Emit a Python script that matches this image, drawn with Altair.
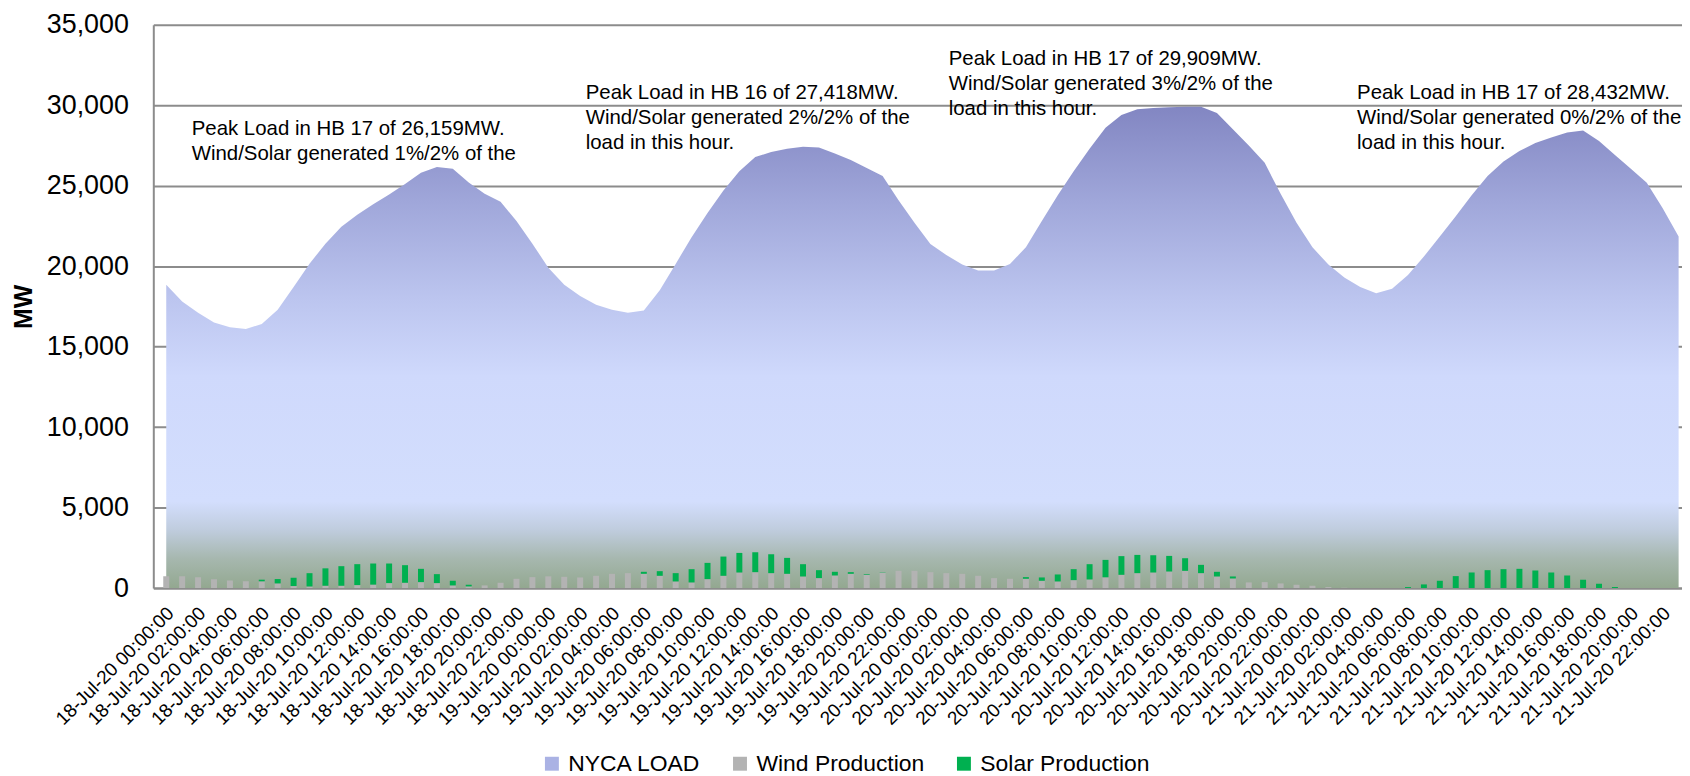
import json
import altair as alt
import pandas as pd

# ---------------- data ----------------
DAYS = ["18", "19", "20", "21"]
TIMESTAMPS = [f"{d}-Jul-20 {h:02d}:00:00" for d in DAYS for h in range(24)]

NYCA_LOAD = [
    18850, 17800, 17100, 16500, 16200, 16100, 16400, 17300, 18700, 20150, 21400, 22450,
    23200, 23850, 24450, 25100, 25800, 26159, 26050, 25200, 24500, 24000, 22800, 21400,
    19900, 18850, 18150, 17600, 17300, 17110, 17250, 18500, 20140, 21800, 23300, 24700,
    25900, 26780, 27100, 27300, 27418, 27380, 27000, 26600, 26100, 25600, 24100, 22700,
    21380, 20700, 20100, 19730, 19730, 20140, 21170, 22800, 24400, 25900, 27300, 28600,
    29400, 29750, 29830, 29870, 29900, 29909, 29520, 28500, 27500, 26420, 24500, 22700,
    21170, 20100, 19300, 18700, 18320, 18590, 19450, 20600, 21850, 23100, 24400, 25600,
    26500, 27150, 27650, 28000, 28300, 28432, 27770, 26900, 26050, 25190, 23600, 21850,
]

WIND = [
    735, 735, 675, 550, 470, 430, 420, 290, 125, 100, 145, 145,
    185, 215, 310, 330, 370, 309, 165, 103, 165, 330, 577, 680,
    730, 700, 660, 762, 886, 927, 886, 762, 412, 350, 556, 762,
    968, 989, 927, 886, 721, 618, 783, 886, 824, 968, 1071, 1071,
    989, 927, 886, 762, 618, 577, 577, 453, 412, 494, 536, 670,
    824, 927, 968, 1030, 1071, 927, 721, 597, 350, 371, 288, 206,
    144, 62, 20, 0, 0, 0, 0, 0, 0, 0, 0, 0,
    0, 0, 0, 0, 0, 0, 0, 0, 0, 0, 0, 0,
]

SOLAR = [
    0, 0, 0, 0, 0, 0, 100, 270, 515, 825, 1080, 1215,
    1300, 1310, 1215, 1092, 824, 556, 288, 103, 0, 0, 0, 0,
    0, 0, 0, 0, 0, 0, 124, 288, 515, 824, 1009, 1195,
    1215, 1236, 1174, 989, 762, 494, 227, 103, 40, 20, 0, 0,
    0, 0, 0, 0, 0, 0, 103, 206, 433, 680, 948, 1080,
    1160, 1133, 1071, 968, 783, 515, 288, 124, 0, 0, 0, 0,
    0, 0, 0, 0, 0, 0, 62, 227, 453, 742, 968, 1112,
    1174, 1195, 1092, 968, 783, 515, 268, 62, 0, 0, 0, 0,
]

SERIES = ["NYCA LOAD", "Wind Production", "Solar Production"]
SERIES_COLORS = ["#aab2e4", "#b3b3b3", "#00b050"]

ANNOT_LINES = [
    ["Peak Load in HB 17 of 26,159MW.", "Wind/Solar generated 1%/2% of the"],
    ["Peak Load in HB 16 of 27,418MW.", "Wind/Solar generated 2%/2% of the", "load in this hour."],
    ["Peak Load in HB 17 of 29,909MW.", "Wind/Solar generated 3%/2% of the", "load in this hour."],
    ["Peak Load in HB 17 of 28,432MW.", "Wind/Solar generated 0%/2% of the", "load in this hour."],
]
ANNOT_X_HOUR = [1.6, 26.35, 49.15, 74.8]
ANNOT_FIRST_LINE_MW = [28507, 30733, 32850, 30733]
ANNOT_LINE_STEP_MW = 1546

# ---------------- tables ----------------
hours = list(range(len(NYCA_LOAD)))
load_df = pd.DataFrame({"hour": hours, "time": TIMESTAMPS, "load": NYCA_LOAD})

bar_rows = []
for h in hours:
    bar_rows.append({"hour": h, "series": "Wind Production", "mw": WIND[h], "order": 0})
    bar_rows.append({"hour": h, "series": "Solar Production", "mw": SOLAR[h], "order": 1})
bar_df = pd.DataFrame(bar_rows)

ann_rows = []
for lines, xh, y0 in zip(ANNOT_LINES, ANNOT_X_HOUR, ANNOT_FIRST_LINE_MW):
    for i, ln in enumerate(lines):
        ann_rows.append({"ax": xh, "ay": y0 - i * ANNOT_LINE_STEP_MW, "line": ln})
ann_df = pd.DataFrame(ann_rows)

# ---------------- scales / axes ----------------
FONT = "Liberation Sans"
GRID = "#8c8c8c"

x_scale = alt.Scale(domain=[-0.5, 94.9], nice=False, zero=False)
y_scale = alt.Scale(domain=[0, 35000], nice=False)

x_axis = alt.Axis(
    values=list(range(0, 96, 2)),
    labelExpr=json.dumps(TIMESTAMPS) + "[datum.value]",
    labelAngle=315, labelAlign="right", labelBaseline="middle",
    labelFontSize=19, labelFont=FONT, labelColor="black",
    labelPadding=22, labelOffset=4, labelOverlap=False, labelFlush=False,
    labelLimit=400,
    ticks=False, tickSize=0, grid=False,
    domainColor=GRID, domainWidth=2, title=None,
)
y_axis = alt.Axis(
    values=list(range(0, 35001, 5000)), format=",.0f",
    labelFontSize=27, labelFont=FONT, labelColor="black", labelPadding=25,
    ticks=False, tickSize=0, grid=True, gridColor=GRID, gridWidth=2,
    domainColor=GRID, domainWidth=2,
    title="MW", titleFont=FONT, titleFontSize=25, titleFontWeight="bold",
    titleColor="black", titleX=-130, titleY=283, titleAngle=270,
    titleAlign="center", titleBaseline="middle",
)

gradient = alt.Gradient(
    gradient="linear",
    stops=[
        alt.GradientStop(color="#8286c2", offset=0),
        alt.GradientStop(color="#a0a7da", offset=0.2),
        alt.GradientStop(color="#bcc5ef", offset=0.4),
        alt.GradientStop(color="#cfd9fc", offset=0.56),
        alt.GradientStop(color="#d3defd", offset=0.82),
        alt.GradientStop(color="#bfccdd", offset=0.88),
        alt.GradientStop(color="#a6b7ae", offset=0.94),
        alt.GradientStop(color="#93a890", offset=1),
    ],
    x1=0, x2=0, y1=0, y2=1,
)

area = alt.Chart(load_df).mark_area(color=gradient, clip=True).encode(
    x=alt.X("hour:Q", scale=x_scale, axis=x_axis),
    y=alt.Y("load:Q", scale=y_scale, axis=y_axis),
)

bars = alt.Chart(bar_df).mark_bar(size=6, clip=True).encode(
    x=alt.X("hour:Q", scale=x_scale, axis=x_axis),
    y=alt.Y("mw:Q", stack="zero", scale=y_scale, axis=y_axis),
    color=alt.Color(
        "series:N",
        scale=alt.Scale(domain=SERIES, range=SERIES_COLORS),
        legend=alt.Legend(
            orient="none", legendX=389, legendY=731, direction="horizontal",
            title=None, symbolType="square", symbolSize=196, symbolStrokeWidth=0,
            symbolOpacity=1, labelFontSize=23, labelFont=FONT, labelColor="black",
            labelLimit=400, gridAlign="none",
            columnPadding=28, labelOffset=5, padding=0,
        ),
    ),
    order=alt.Order("order:Q"),
)

texts = alt.Chart(ann_df).mark_text(
    align="left", baseline="middle", fontSize=20.5, font=FONT, color="black"
).encode(
    x=alt.X("ax:Q", scale=x_scale, axis=x_axis),
    y=alt.Y("ay:Q", scale=y_scale, axis=y_axis),
    text="line:N",
)

chart = (
    alt.layer(area, bars, texts)
    .properties(
        width=1536, height=566,
        autosize=alt.AutoSizeParams(type="none"),
        padding={"left": 146, "top": 15, "right": 0, "bottom": 187},
    )
    .configure_view(stroke=None)
)

chart.save("out.html", embed_options={"renderer": "svg", "actions": False})
